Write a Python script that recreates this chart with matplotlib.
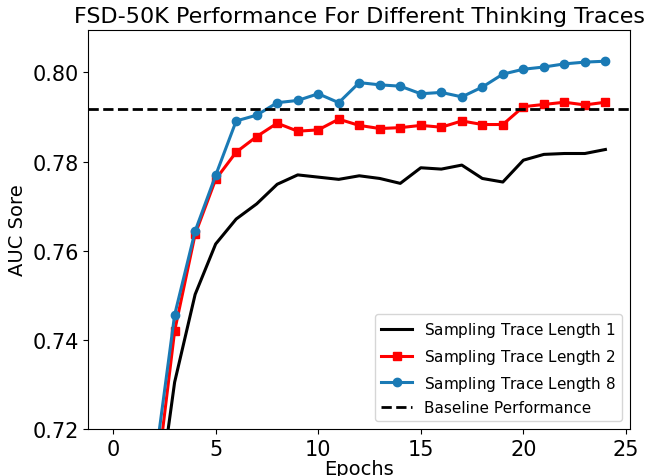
import matplotlib
matplotlib.use("Agg")
import matplotlib.pyplot as plt

# data
epochs = list(range(25))
auc_len1 = [0.600, 0.650, 0.697, 0.7305, 0.7502, 0.7615, 0.7671, 0.7705, 0.7749, 0.7770,
            0.7765, 0.7760, 0.7768, 0.7762, 0.7751, 0.7786, 0.7783, 0.7792, 0.7762, 0.7754,
            0.7803, 0.7816, 0.7818, 0.7818, 0.7827]
auc_len2 = [0.610, 0.660, 0.704, 0.7420, 0.7637, 0.7760, 0.7821, 0.7856, 0.7886, 0.7868,
            0.7871, 0.7895, 0.7881, 0.7874, 0.7876, 0.7881, 0.7877, 0.7891, 0.7883, 0.7883,
            0.7923, 0.7928, 0.7933, 0.7927, 0.7933]
auc_len8 = [0.620, 0.670, 0.711, 0.7456, 0.7644, 0.7769, 0.7891, 0.7904, 0.7932, 0.7937,
            0.7952, 0.7932, 0.7977, 0.7972, 0.7969, 0.7952, 0.7955, 0.7945, 0.7967, 0.7996,
            0.8007, 0.8012, 0.8019, 0.8023, 0.8025]
baseline = 0.7917

fig = plt.figure(figsize=(6.52, 4.77), dpi=100)
ax = fig.add_axes([0.1357, 0.0985, 0.8306, 0.8365])

ax.plot(epochs, auc_len1, color='black', lw=2.2, label='Sampling Trace Length $1$')
ax.plot(epochs, auc_len2, color='red', lw=2.2, marker='s', markersize=6,
        label='Sampling Trace Length $2$')
ax.plot(epochs, auc_len8, color='#1a7ab5', lw=2.2, marker='o', markersize=6,
        label='Sampling Trace Length $8$')
ax.axhline(baseline, color='black', ls='--', lw=2, label='Baseline Performance')

ax.set_ylim(0.72, 0.8095)
ax.set_yticks([0.72, 0.74, 0.76, 0.78, 0.80])
ax.tick_params(labelsize=15)
ax.set_title('FSD-50K Performance For Different Thinking Traces', fontsize=16)
ax.set_xlabel('Epochs', fontsize=14, labelpad=0)
ax.set_ylabel('AUC Sore', fontsize=14)
ax.legend(loc='lower right', fontsize=11)

fig.savefig('out.png', dpi=100)
